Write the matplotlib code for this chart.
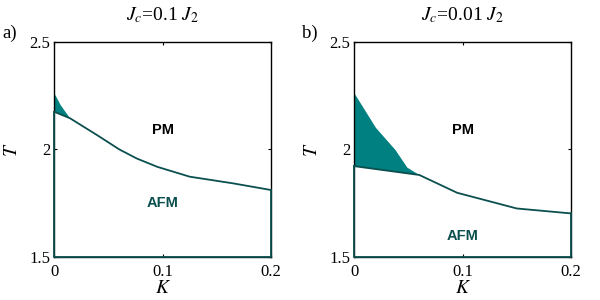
import matplotlib
matplotlib.use("Agg")
import matplotlib.pyplot as plt

# panel a: Jc = 0.1 J2
a_low_k = [0, 0.0145, 0.04, 0.06, 0.076, 0.095, 0.125, 0.165, 0.2]
a_low_t = [2.175, 2.145, 2.065, 2.0, 1.958, 1.919, 1.873, 1.842, 1.811]
a_up_k = [0, 0.006, 0.0145]
a_up_t = [2.262, 2.205, 2.145]

# panel b: Jc = 0.01 J2
b_low_k = [0, 0.06, 0.095, 0.15, 0.2]
b_low_t = [1.922, 1.881, 1.798, 1.725, 1.702]
b_up_k = [0, 0.02, 0.038, 0.049, 0.06]
b_up_t = [2.262, 2.10, 1.997, 1.915, 1.881]

titles = [r"$J_c$=0.1 $J_2$", r"$J_c$=0.01 $J_2$"]
tags = ["a)", "b)"]
pm_pos = [(0.1, 2.09), (0.1, 2.09)]
afm_pos = [(0.1, 1.749), (0.1, 1.596)]

xticks = [0, 0.1, 0.2]
yticks = [1.5, 2, 2.5]

FILL = "#008080"
LINE = "#0b4f4f"

plt.rcParams["font.family"] = ["Liberation Serif", "DejaVu Serif"]
plt.rcParams["mathtext.fontset"] = "stix"

fig = plt.figure(figsize=(6, 3), dpi=100)
lefts = [0.0905, 0.5905]
width = 0.361
panels = [(a_low_k, a_low_t, a_up_k, a_up_t), (b_low_k, b_low_t, b_up_k, b_up_t)]

for i, (lk, lt, uk, ut) in enumerate(panels):
    ax = fig.add_axes([lefts[i], 0.144, width, 0.716])
    ax.set_xlim(0, 0.2)
    ax.set_ylim(1.5, 2.5)

    # coexistence region between upper and lower curve
    poly_k = list(uk) + [k for k in reversed(lk) if k <= uk[-1]]
    poly_t = list(ut) + [t for k, t in zip(reversed(lk), reversed(lt)) if k <= uk[-1]]
    ax.fill(poly_k, poly_t, color=FILL, lw=0, zorder=2)

    # AFM region outline
    ax.plot(lk, lt, color=LINE, lw=1.3, zorder=4, clip_on=False)
    ax.plot([0, 0, 0.2, 0.2], [lt[0], 1.5, 1.5, lt[-1]], color=LINE, lw=1.3,
            zorder=4, clip_on=False)

    ax.text(*pm_pos[i], "PM", family="Liberation Sans", fontweight="bold",
            fontsize=10.5, ha="center", va="center", color="black")
    ax.text(*afm_pos[i], "AFM", family="Liberation Sans", fontweight="bold",
            fontsize=10.5, ha="center", va="center", color=LINE)

    ax.set_xticks(xticks)
    ax.set_xticklabels(["0", "0.1", "0.2"])
    ax.set_yticks(yticks)
    ax.set_yticklabels(["1.5", "2", "2.5"])
    ax.tick_params(direction="in", length=2.5, width=0.8, top=True, right=True,
                   labelsize=12, pad=3)
    ax.tick_params(axis="x", pad=5)
    for s in ax.spines.values():
        s.set_linewidth(1.0)

    ax.set_xlabel(r"$K$", fontsize=14, labelpad=0)
    ax.set_ylabel(r"$T$", fontsize=14, labelpad=6)
    fig.text(lefts[i] + width / 2, 0.948, titles[i], fontsize=14,
             ha="center", va="center")
    fig.text(lefts[i] - 0.087, 0.89, tags[i], fontsize=13.5, ha="left", va="center")

fig.savefig("out.png", dpi=100)
